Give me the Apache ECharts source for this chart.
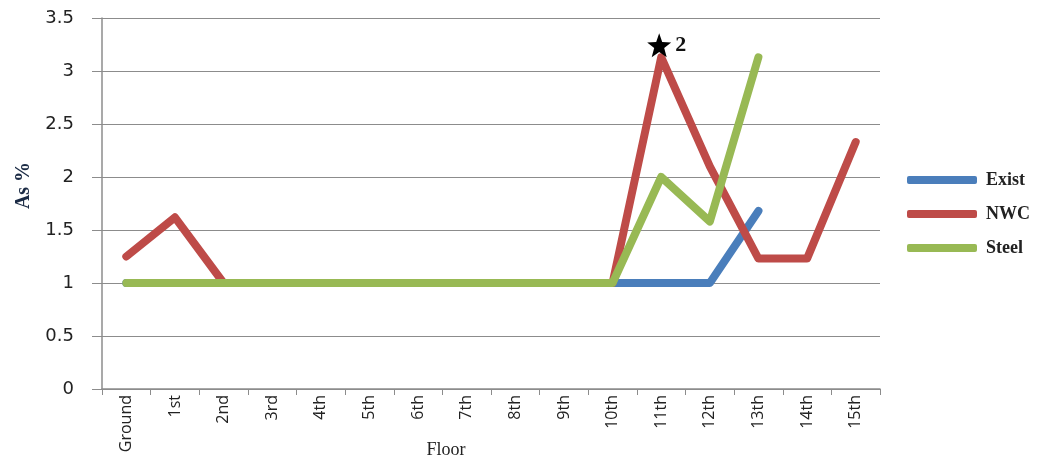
<!DOCTYPE html>
<html>
<head>
<meta charset="utf-8">
<script src="https://cdn.jsdelivr.net/npm/echarts@6/dist/echarts.min.js"></script>
<style>
  html, body { margin: 0; padding: 0; background: #fff; }
  #chart { width: 1056px; height: 461px; }
</style>
</head>
<body>
<div id="chart"></div>
<script>
// Floors along the x axis
const floors = ['Ground', '1st', '2nd', '3rd', '4th', '5th', '6th', '7th', '8th', '9th',
                '10th', '11th', '12th', '13th', '14th', '15th'];

// Steel ratio As% per floor for each scheme
const existValues = [1, 1, 1, 1, 1, 1, 1, 1, 1, 1, 1, 1, 1, 1.68, null, null];
const nwcValues   = [1.25, 1.62, 1, 1, 1, 1, 1, 1, 1, 1, 1, 3.13, 2.1, 1.23, 1.23, 2.33];
const steelValues = [1, 1, 1, 1, 1, 1, 1, 1, 1, 1, 1, 2.0, 1.58, 3.13, null, null];

// Y axis ticks
const yMin = 0, yMax = 3.5, yStep = 0.5;

const chart = echarts.init(document.getElementById('chart'));

const lineStyle = (color) => ({ width: 8, color: color, cap: 'round', join: 'round' });

chart.setOption({
  animation: false,
  backgroundColor: '#ffffff',
  grid: { left: 102, right: 176, top: 18, bottom: 72, containLabel: false, outerBoundsMode: 'none' },
  legend: {
    orient: 'vertical',
    left: 902,
    top: 166,
    itemWidth: 70,
    itemHeight: 8,
    itemGap: 16,
    icon: 'roundRect',
    textStyle: { fontFamily: 'Liberation Serif', fontSize: 18, fontWeight: 'bold', color: '#222', padding: [0, 0, 0, 4] },
    data: ['Exist', 'NWC', 'Steel']
  },
  xAxis: {
    type: 'category',
    data: floors,
    boundaryGap: true,
    name: 'Floor',
    nameLocation: 'middle',
    nameGap: 52,
    nameMoveOverlap: false,
    nameTextStyle: { fontFamily: 'Liberation Serif', fontSize: 18, color: '#222', padding: [0, 90, 0, 0] },
    axisLine: { lineStyle: { color: '#8c8c8c', width: 1.5 } },
    axisTick: { show: true, alignWithLabel: false, length: 6, lineStyle: { color: '#8c8c8c' } },
    axisLabel: { rotate: 90, fontFamily: 'Open Sans', fontSize: 16, color: '#222', margin: 6 },
    splitLine: { show: false }
  },
  yAxis: {
    type: 'value',
    min: yMin,
    max: yMax,
    interval: yStep,
    name: 'As %',
    nameLocation: 'middle',
    nameGap: 68,
    nameRotate: 90,
    nameMoveOverlap: false,
    nameTextStyle: { fontFamily: 'Liberation Serif', fontSize: 20, fontWeight: 'bold', color: '#1a2a44', padding: [0, 0, 0, 36] },
    axisLine: { show: true, lineStyle: { color: '#8c8c8c', width: 1.5 } },
    axisTick: { show: true, length: 10, lineStyle: { color: '#8c8c8c' } },
    axisLabel: { fontFamily: 'DejaVu Sans', fontSize: 18, color: '#222', margin: 28 },
    splitLine: { lineStyle: { color: '#8c8c8c', width: 1 } }
  },
  series: [
    {
      name: 'Exist', type: 'line', data: existValues, symbol: 'none',
      itemStyle: { color: '#4a7ebb' }, lineStyle: lineStyle('#4a7ebb'), z: 2
    },
    {
      name: 'NWC', type: 'line', data: nwcValues, symbol: 'none',
      itemStyle: { color: '#be4b48' }, lineStyle: lineStyle('#be4b48'), z: 3,
      markPoint: {
        symbol: 'path://M12 0 L15 8.5 L24 9 L17 14.5 L19.5 23.5 L12 18.5 L4.5 23.5 L7 14.5 L0 9 L9 8.5 Z',
        symbolSize: 24,
        symbolOffset: [-2, -12],
        itemStyle: { color: '#000' },
        label: {
          show: true, position: 'right', distance: 4, formatter: '2',
          fontFamily: 'Liberation Serif', fontSize: 22, fontWeight: 'bold', color: '#111'
        },
        data: [{ coord: ['11th', 3.13] }]
      }
    },
    {
      name: 'Steel', type: 'line', data: steelValues, symbol: 'none',
      itemStyle: { color: '#98b954' }, lineStyle: lineStyle('#98b954'), z: 4
    }
  ]
});
</script>
</body>
</html>
